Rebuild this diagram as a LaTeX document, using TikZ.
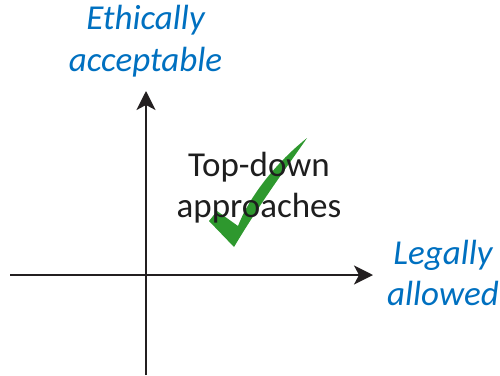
\documentclass[tikz,border=0pt]{standalone}
\usepackage{fontspec}
\setmainfont{Carlito}
\usetikzlibrary{arrows.meta}
\definecolor{axisink}{RGB}{35,31,32}
\definecolor{labelblue}{RGB}{0,112,192}
\definecolor{tickgreen}{RGB}{46,152,46}
\definecolor{textink}{RGB}{30,30,30}
\begin{document}
\begin{tikzpicture}[x=1pt,y=-1pt,
  axisline/.style={draw=axisink,line width=1.8pt,
    -{Stealth[length=19pt,width=19pt,inset=5pt]}},
  axislabel/.style={font=\fontsize{35}{41}\selectfont\itshape,text=labelblue,
    inner sep=0pt,anchor=base},
  quadlabel/.style={font=\fontsize{35}{41}\selectfont,text=textink,
    inner sep=0pt,anchor=base}]
\useasboundingbox (0,0) rectangle (500,375);

% green tick mark, behind the quadrant text
\fill[tickgreen] (209,221) -- (217,211) -- (238,226)
  .. controls (248,200) and (272,166) .. (307,138)
  .. controls (292,160) and (262,200) .. (234,247) -- cycle;

% axes
\coordinate (ybot) at (146,375);
\coordinate (ytop) at (146,91);
\coordinate (xleft) at (10,275);
\coordinate (xright) at (373,275);
\draw[axisline] (ybot) -- (ytop);
\draw[axisline] (xleft) -- (xright);

% axis titles
\node[axislabel] (eth1) at (145.5,29.3) {Ethically};
\node[axislabel] (eth2) at (145.5,71.7) {acceptable};
\node[axislabel] (leg1) at (443,264.5) {Legally};
\node[axislabel] (leg2) at (443,305.7) {allowed};

% quadrant text
\node[quadlabel] (td1) at (259,176) {Top-down};
\node[quadlabel] (td2) at (259,217) {approaches};
\end{tikzpicture}
\end{document}
